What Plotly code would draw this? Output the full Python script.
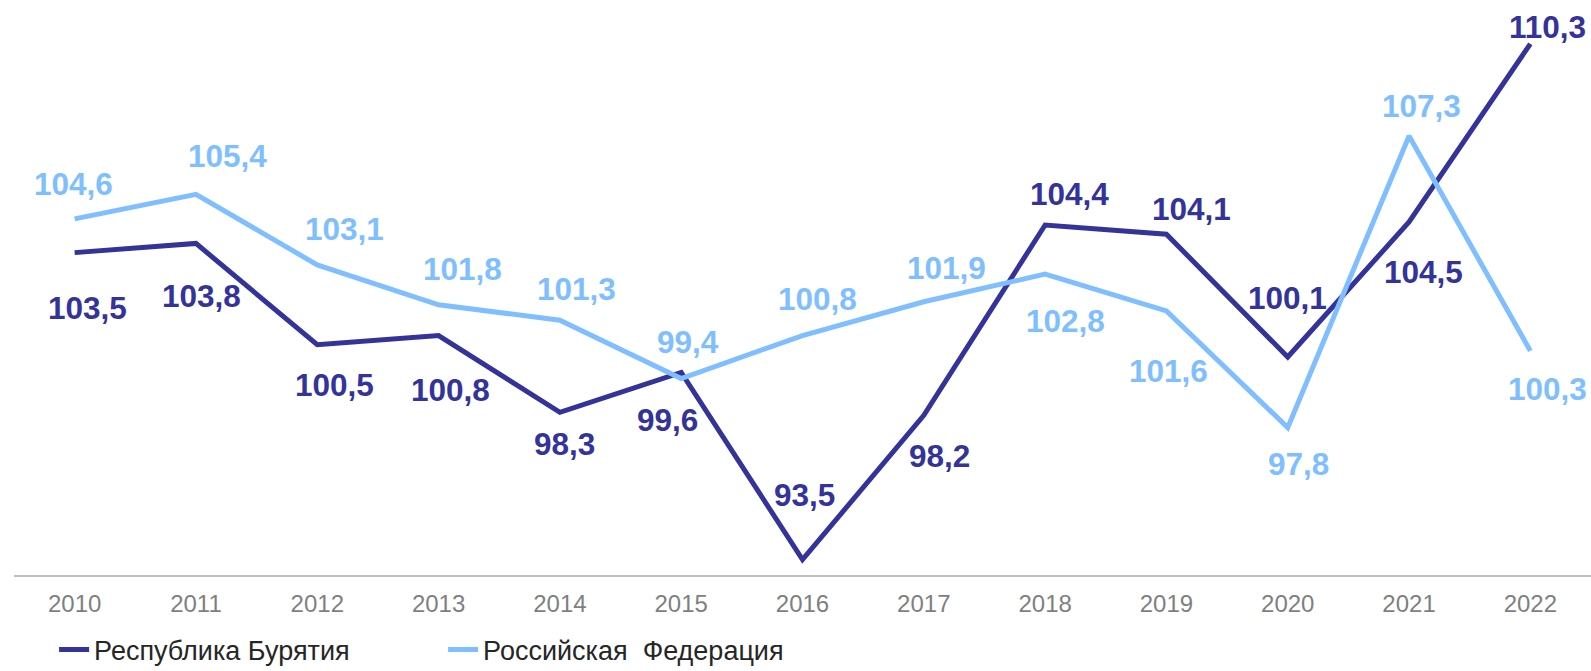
import plotly.graph_objects as go

years = ['2010', '2011', '2012', '2013', '2014', '2015', '2016',
         '2017', '2018', '2019', '2020', '2021', '2022']
buryatia = [103.5, 103.8, 100.5, 100.8, 98.3, 99.6, 93.5,
            98.2, 104.4, 104.1, 100.1, 104.5, 110.3]
russia = [104.6, 105.4, 103.1, 101.8, 101.3, 99.4, 100.8,
          101.9, 102.8, 101.6, 97.8, 107.3, 100.3]
name_b = 'Республика Бурятия'
name_r = 'Российская\u00a0 Федерация'

# label offsets in pixels (dx right, dy down) – styling only
off_b = [(13, 55), (6, 53), (17, 40), (12, 54), (5, 32), (-14, 48), (2, -65),
         (16, 41), (24, -31), (25, -25), (0, -59), (14, 50), (17, -17)]
off_r = [(-1, -35), (32, -38), (27, -36), (24, -36), (17, -31), (7, -37), (15, -37),
         (23, -34), (20, 47), (2, 60), (11, 36), (12, -30), (17, 38)]

C_B = '#333399'
C_R = '#80bfff'
FONT = 'Liberation Sans, Arial, sans-serif'

fig = go.Figure()
fig.add_trace(go.Scatter(x=years, y=buryatia, mode='lines', name=name_b,
                         line=dict(color=C_B, width=5)))
fig.add_trace(go.Scatter(x=years, y=russia, mode='lines', name=name_r,
                         line=dict(color=C_R, width=5)))

def fmt(v):
    return f'{v:.1f}'.replace('.', ',')

anns = []
for vals, offs, col in ((buryatia, off_b, C_B), (russia, off_r, C_R)):
    for i, (v, (dx, dy)) in enumerate(zip(vals, offs)):
        anns.append(dict(x=i, y=v, xref='x', yref='y', text='<b>' + fmt(v) + '</b>',
                         showarrow=False, xanchor='center', yanchor='middle',
                         xshift=dx, yshift=-dy,
                         font=dict(family=FONT, size=31.5, color=col)))

fig.update_layout(
    width=1591, height=671,
    margin=dict(l=14, r=0, t=7, b=96),
    paper_bgcolor='white', plot_bgcolor='white',
    annotations=anns,
    showlegend=True,
    legend=dict(orientation='h', x=0.034, xanchor='left', y=0.068, yanchor='top',
                xref='container', yref='container',
                font=dict(family=FONT, size=27, color='#262626'),
                entrywidth=344, entrywidthmode='pixels',
                bgcolor='rgba(0,0,0,0)'),
    xaxis=dict(type='category', range=[-0.5, 12.5], showgrid=False,
               showline=True, linecolor='#bfbfbf', linewidth=2,
               ticks='', ticklabelstandoff=6,
               tickfont=dict(family=FONT, size=24, color='#7f7f7f'),
               zeroline=False, fixedrange=True),
    yaxis=dict(range=[93, 111.5], visible=False, showgrid=False,
               zeroline=False, fixedrange=True),
)

fig.write_html('out.html', config={'displayModeBar': False},
               post_script="document.body.style.margin='0';")
